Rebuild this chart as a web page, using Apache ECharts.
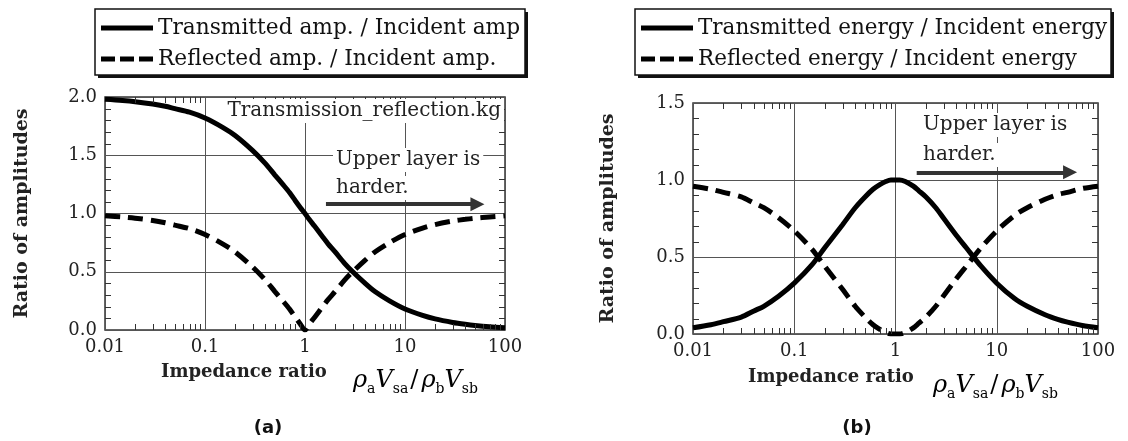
<!DOCTYPE html>
<html>
<head>
<meta charset="utf-8">
<script src="https://cdn.jsdelivr.net/npm/echarts@6/dist/echarts.min.js"></script>
<style>
  html, body { margin: 0; padding: 0; background: #fff; }
  #main { width: 1128px; height: 441px; }
</style>
</head>
<body>
<div id="main"></div>
<script>
// impedance ratio rho_a*Vsa / rho_b*Vsb (x positions)
var ratio = [0.01, 0.015, 0.02, 0.03, 0.04, 0.05, 0.07, 0.1, 0.15, 0.2, 0.3, 0.4, 0.5, 0.6, 0.7, 0.8, 0.9,
             1, 1.1, 1.25, 1.5, 1.7, 2, 2.5, 3, 4, 5, 7, 10, 15, 20, 30, 40, 50, 70, 100];

// (a) amplitudes
var ampTransmitted = [1.98, 1.97, 1.96, 1.94, 1.92, 1.90, 1.87, 1.82, 1.74, 1.67, 1.54, 1.43, 1.33, 1.25, 1.18, 1.11, 1.05,
                      1.00, 0.95, 0.89, 0.80, 0.74, 0.67, 0.57, 0.50, 0.40, 0.33, 0.25, 0.18, 0.125, 0.095, 0.065, 0.049, 0.039, 0.028, 0.02];
var ampReflected = [0.98, 0.97, 0.96, 0.94, 0.92, 0.90, 0.87, 0.82, 0.74, 0.67, 0.54, 0.43, 0.33, 0.25, 0.18, 0.11, 0.05,
                    0.00, 0.05, 0.11, 0.20, 0.26, 0.33, 0.43, 0.50, 0.60, 0.67, 0.75, 0.82, 0.875, 0.905, 0.935, 0.95, 0.96, 0.97, 0.98];

// (b) energies
var energyTransmitted = [0.04, 0.06, 0.08, 0.11, 0.15, 0.18, 0.245, 0.33, 0.45, 0.56, 0.71, 0.82, 0.89, 0.94, 0.97, 0.99, 1.00,
                         1.00, 1.00, 0.99, 0.96, 0.93, 0.89, 0.82, 0.75, 0.64, 0.56, 0.44, 0.33, 0.23, 0.18, 0.125, 0.095, 0.077, 0.055, 0.04];
var energyReflected = [0.96, 0.94, 0.92, 0.89, 0.85, 0.82, 0.755, 0.67, 0.55, 0.44, 0.29, 0.18, 0.11, 0.06, 0.03, 0.01, 0.00,
                       0.00, 0.00, 0.01, 0.04, 0.07, 0.11, 0.18, 0.25, 0.36, 0.44, 0.56, 0.67, 0.77, 0.82, 0.875, 0.905, 0.92, 0.945, 0.96];

// minor tick positions (inside ticks on all four sides)
var minorX = [0.02, 0.03, 0.04, 0.05, 0.06, 0.07, 0.08, 0.09,
              0.2, 0.3, 0.4, 0.5, 0.6, 0.7, 0.8, 0.9,
              2, 3, 4, 5, 6, 7, 8, 9,
              20, 30, 40, 50, 60, 70, 80, 90];
var minorYa = [0.1, 0.2, 0.3, 0.4, 0.6, 0.7, 0.8, 0.9, 1.1, 1.2, 1.3, 1.4, 1.6, 1.7, 1.8, 1.9];
var minorYb = [0.1, 0.2, 0.3, 0.4, 0.6, 0.7, 0.8, 0.9, 1.1, 1.2, 1.3, 1.4];

var legendA = ['Transmitted amp. / Incident amp', 'Reflected amp. / Incident amp.'];
var legendB = ['Transmitted energy / Incident energy', 'Reflected energy / Incident energy'];

var serif = 'DejaVu Serif';
var solidIcon = 'path://M0 0H52V5H0Z';
var dashIcon = 'path://M0 0H14V5H0ZM19 0H33V5H19ZM38 0H52V5H38Z';
var TICK = 6;

function pairs(ys) {
  return ratio.map(function (r, i) { return [r, ys[i]]; });
}

function xAxisFor(g) {
  return {
    gridIndex: g, type: 'log', logBase: 10, min: 0.01, max: 100, position: 'bottom',
    axisLine: { show: false, onZero: false },
    axisTick: { show: false },
    axisLabel: { margin: 8, fontFamily: serif, fontSize: 18, color: '#222',
                 formatter: function (v) { return String(+(+v).toPrecision(3)); } },
    splitLine: { show: true, lineStyle: { color: '#555', width: 1 } }
  };
}

function yAxisFor(g, max, gap) {
  return {
    gridIndex: g, type: 'value', min: 0, max: max, interval: 0.5, position: 'left',
    axisLine: { show: false, onZero: false },
    axisTick: { show: false },
    name: 'Ratio of amplitudes', nameLocation: 'middle', nameGap: gap, nameRotate: 90,
    nameTextStyle: { fontFamily: serif, fontWeight: 'bold', fontSize: 19, color: '#222' },
    axisLabel: { margin: 8, fontFamily: serif, fontSize: 18, color: '#222',
                 formatter: function (v) { return v.toFixed(1); } },
    splitLine: { show: true, lineStyle: { color: '#555', width: 1 } }
  };
}

function tickLine(x1, y1, x2, y2) {
  return { type: 'line', shape: { x1: x1, y1: y1, x2: x2, y2: y2 },
           style: { stroke: '#333', lineWidth: 1 } };
}

// minor ticks on bottom & top edges, placed by the log axis
function xTicks(axisIndex) {
  return {
    type: 'custom', xAxisIndex: axisIndex, yAxisIndex: axisIndex, silent: true, clip: false, z: 4,
    data: minorX.map(function (v) { return [v, 0]; }),
    renderItem: function (params, api) {
      var cs = params.coordSys;
      var x = Math.round(api.coord([api.value(0), api.value(1)])[0]) + 0.5;
      return { type: 'group', children: [
        tickLine(x, cs.y + cs.height, x, cs.y + cs.height - TICK),
        tickLine(x, cs.y, x, cs.y + TICK)
      ] };
    }
  };
}

// minor ticks on left & right edges, placed by the value axis
function yTicks(axisIndex, values) {
  return {
    type: 'custom', xAxisIndex: axisIndex, yAxisIndex: axisIndex, silent: true, clip: false, z: 4,
    data: values.map(function (v) { return [1, v]; }),
    renderItem: function (params, api) {
      var cs = params.coordSys;
      var y = Math.round(api.coord([api.value(0), api.value(1)])[1]) + 0.5;
      return { type: 'group', children: [
        tickLine(cs.x, y, cs.x + TICK, y),
        tickLine(cs.x + cs.width, y, cs.x + cs.width - TICK, y)
      ] };
    }
  };
}

function legendFor(left, names, size) {
  return {
    left: left, top: 9, orient: 'vertical', z: 6,
    data: [{ name: names[0], icon: solidIcon }, { name: names[1], icon: dashIcon }],
    itemWidth: 52, itemHeight: 5, itemGap: 1,
    padding: [4, 6, 2, 6],
    selectedMode: false,
    textStyle: { fontFamily: serif, fontSize: size, lineHeight: 30, color: '#111' }
  };
}

// legend frame with a hard drop shadow on the right and bottom
function legendBox(x, w) {
  return [
    { type: 'rect', z: 1, shape: { x: x + 3, y: 12, width: w, height: 66 }, style: { fill: '#111' } },
    { type: 'rect', z: 2, shape: { x: x, y: 9, width: w, height: 66 },
      style: { fill: '#fff', stroke: '#111', lineWidth: 1.5 } }
  ];
}

function curve(name, xi, ys, dashed, extra) {
  var s = {
    name: name, type: 'line', xAxisIndex: xi, yAxisIndex: xi,
    data: pairs(ys), symbol: 'none', smooth: 0.3, silent: true,
    color: '#000',
    lineStyle: { color: '#000', width: 5, type: dashed ? [15, 8] : 'solid', cap: 'butt' },
    z: 3
  };
  return Object.assign(s, extra || {});
}

function arrow(y) {
  return {
    silent: true, symbol: ['none', 'triangle'], symbolSize: 14,
    label: { show: false },
    lineStyle: { color: '#333', width: 4, type: 'solid' },
    itemStyle: { color: '#333' },
    emphasis: { disabled: true },
    data: [[{ coord: [1.62, y] }, { coord: [53, y] }]]
  };
}

function label(text, x, y, size, opts) {
  return {
    type: 'text', z: 20,
    style: Object.assign({
      text: text, x: x, y: y,
      font: size + 'px "' + serif + '"',
      fill: '#222', align: 'left', textAlign: 'left',
      verticalAlign: 'middle', textVerticalAlign: 'middle'
    }, opts || {})
  };
}

function formula(x, y) {
  var it = { fontFamily: serif, fontStyle: 'italic', fontSize: 24, lineHeight: 30, color: '#333' };
  var sub = { fontFamily: serif, fontSize: 14, lineHeight: 13, verticalAlign: 'bottom', color: '#333' };
  return {
    type: 'text', z: 20,
    style: {
      text: '{i|\u03c1}{s|a}{i|V}{s|sa}{n|/}{i|\u03c1}{s|b}{i|V}{s|sb}',
      x: x, y: y, align: 'left', textAlign: 'left', verticalAlign: 'middle', textVerticalAlign: 'middle',
      rich: { i: it, s: sub, n: { fontFamily: serif, fontSize: 24, lineHeight: 30, color: '#333', padding: [0, 3, 0, 2] } }
    }
  };
}

var bg = { backgroundColor: '#fff', padding: [2, 3] };
var boldSerif = { font: 'bold 18px "' + serif + '"' };
var gridFrame = { show: true, borderColor: '#333', borderWidth: 1.5, backgroundColor: 'transparent',
                  outerBoundsMode: 'none', containLabel: false };

var chart = echarts.init(document.getElementById('main'), null, { renderer: 'canvas' });
var option = {
  backgroundColor: '#fff',
  animation: false,
  grid: [
    Object.assign({ left: 105, top: 97, width: 400, height: 233 }, gridFrame),
    Object.assign({ left: 693, top: 103, width: 405, height: 231 }, gridFrame)
  ],
  xAxis: [xAxisFor(0), xAxisFor(1)],
  yAxis: [yAxisFor(0, 2, 73), yAxisFor(1, 1.5, 75)],
  legend: [legendFor(95, legendA, 21.7), legendFor(635, legendB, 21.5)],
  series: [
    curve(legendA[0], 0, ampTransmitted, false, { markLine: arrow(1.08) }),
    curve(legendA[1], 0, ampReflected, true),
    curve(legendB[0], 1, energyTransmitted, false, { markLine: arrow(1.05) }),
    curve(legendB[1], 1, energyReflected, true),
    xTicks(0), yTicks(0, minorYa),
    xTicks(1), yTicks(1, minorYb)
  ],
  graphic: legendBox(95, 430).concat(legendBox(635, 476)).concat([
    label('Transmission_reflection.kg', 504, 111, 20, Object.assign({ align: 'right', textAlign: 'right' }, bg)),
    label('Upper layer is', 333, 160, 20, bg),
    label('harder.', 333, 188, 20, bg),
    label('Upper layer is', 920, 125, 20, bg),
    label('harder.', 920, 155, 20, bg),
    label('Impedance ratio', 161, 372, 18, boldSerif),
    label('Impedance ratio', 748, 377, 18, boldSerif),
    formula(353, 381),
    formula(933, 386),
    label('(a)', 268, 428, 18, { font: 'bold 18px "DejaVu Sans"', fill: '#111', align: 'center', textAlign: 'center' }),
    label('(b)', 857, 428, 18, { font: 'bold 18px "DejaVu Sans"', fill: '#111', align: 'center', textAlign: 'center' })
  ])
};
chart.setOption(option);
</script>
</body>
</html>
